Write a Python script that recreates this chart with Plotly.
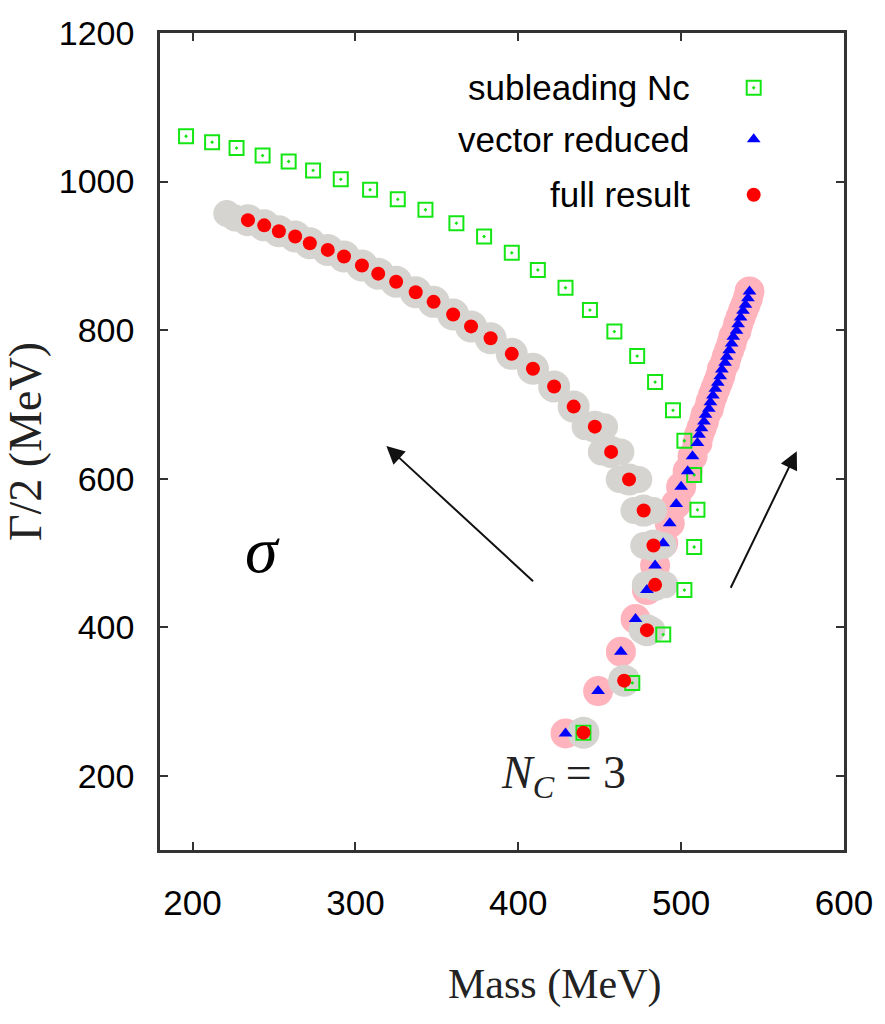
import plotly.graph_objects as go

# ---------------- data ----------------
green_mass = [196, 212, 227, 243, 259, 274, 291, 309, 326, 343, 362, 379, 396, 412,
              429, 444, 459, 473, 484, 495, 502, 508, 510, 508, 502, 489, 470, 440]
green_gamma = [1061, 1053, 1045, 1035, 1027, 1015, 1003, 989, 976, 962, 944, 926, 904, 881,
               857, 827, 798, 765, 730, 692, 651, 605, 558, 508, 450, 390, 325, 258]

red_mass = [234, 244, 253, 263, 272, 283, 293, 304, 314, 325, 337, 348, 360, 371,
            383, 396, 409, 422, 434, 447, 457, 468, 477, 483, 484, 479, 465, 440]
red_gamma = [948, 941, 933, 926, 917, 908, 899, 887, 876, 865, 851, 838, 821, 805,
             789, 768, 748, 724, 697, 670, 636, 599, 557, 510, 457, 396, 328, 258]

blue_mass = [429, 449, 463, 472, 479, 484, 489, 493, 497, 500, 504, 507, 510, 511, 512.5,
             514, 515, 517, 518, 519.5, 521, 522.5, 524, 525, 527, 528, 529.5, 531, 532,
             534, 535, 536.5, 538, 539.5, 541, 542]
blue_gamma = [257, 314, 367, 411, 450, 483, 513, 540, 566, 589, 610, 630, 648, 659, 668,
              677, 686, 694, 703, 712, 721, 729, 738, 747, 756, 764, 773, 782, 791,
              799, 808, 817, 826, 834, 843, 852]

# extra blobs of the grey uncertainty band (left end and sideways spread near the bottom)
band_extra_mass = [221, 226, 441, 453, 451, 463, 462, 474, 471, 483, 477, 489, 478, 490, 476, 482]
band_extra_gamma = [957, 951, 670, 670, 636, 636, 599, 599, 557, 557, 510, 510, 457, 457, 396, 396]

legend_labels = ["subleading Nc", "vector reduced", "full result"]
x_ticks = [200, 300, 400, 500, 600]
y_ticks = [200, 400, 600, 800, 1000, 1200]

# arrows: (tail mass, tail gamma, head mass, head gamma)
arrow_left = (410, 460, 319, 644)
arrow_right = (530, 451, 571, 637)

# ---------------- styles ----------------
GREEN = "#14e614"
BLUE = "#0000ff"
RED = "#ff0000"
GREY = "#d6d4d0"
PINK = "#ffb3bd"
SANS = "Liberation Sans, Arial, sans-serif"
SERIF = "Liberation Serif, DejaVu Serif, serif"

fig = go.Figure()

# bands
fig.add_trace(go.Scatter(x=blue_mass, y=blue_gamma, mode="markers",
                         marker=dict(symbol="circle", size=30, color=PINK, line=dict(width=0)),
                         hoverinfo="skip", showlegend=False))
fig.add_trace(go.Scatter(x=red_mass, y=red_gamma, mode="markers",
                         marker=dict(symbol="circle", size=32, color=GREY, line=dict(width=0)),
                         hoverinfo="skip", showlegend=False))
fig.add_trace(go.Scatter(x=band_extra_mass, y=band_extra_gamma, mode="markers",
                         marker=dict(symbol="circle", size=27, color=GREY, line=dict(width=0)),
                         hoverinfo="skip", showlegend=False))

# series
fig.add_trace(go.Scatter(x=green_mass, y=green_gamma, mode="markers", name=legend_labels[0],
                         marker=dict(symbol="square-open-dot", size=14, color=GREEN,
                                     line=dict(width=2, color=GREEN)),
                         showlegend=False))
fig.add_trace(go.Scatter(x=blue_mass, y=blue_gamma, mode="markers", name=legend_labels[1],
                         marker=dict(symbol="triangle-up", size=12, color=BLUE, line=dict(width=0)),
                         showlegend=False))
fig.add_trace(go.Scatter(x=red_mass, y=red_gamma, mode="markers", name=legend_labels[2],
                         marker=dict(symbol="circle", size=14, color=RED, line=dict(width=0)),
                         showlegend=False))

# custom legend (text left, key right) on an overlay axis
key_x = 0.868
key_y = [0.933, 0.870, 0.802]
key_symbols = [dict(symbol="square-open-dot", size=14, color=GREEN, line=dict(width=2, color=GREEN)),
               dict(symbol="triangle-up", size=12, color=BLUE, line=dict(width=0)),
               dict(symbol="circle", size=14, color=RED, line=dict(width=0))]
for i, lab in enumerate(legend_labels):
    fig.add_trace(go.Scatter(x=[key_x], y=[key_y[i]], mode="markers", marker=key_symbols[i],
                             xaxis="x2", yaxis="y2", hoverinfo="skip", showlegend=False))
    fig.add_annotation(x=0.778, y=key_y[i], xref="x2", yref="y2", text=lab, showarrow=False,
                       xanchor="right", yanchor="middle",
                       font=dict(family=SANS, size=35, color="black"))

# arrows
for (tx, ty, hx, hy) in (arrow_left, arrow_right):
    fig.add_annotation(x=hx, y=hy, ax=tx, ay=ty, xref="x", yref="y", axref="x", ayref="y",
                       text="", showarrow=True, arrowhead=2, arrowsize=1.8, arrowwidth=2,
                       arrowcolor="#111111")

# text labels
fig.add_annotation(x=243, y=505, xref="x", yref="y", text="<i>σ</i>", showarrow=False,
                   font=dict(family=SERIF, size=66, color="black"))
fig.add_annotation(x=428, y=200, xref="x", yref="y",
                   text="<i>N</i><sub><i>C</i></sub> = 3", showarrow=False,
                   font=dict(family=SERIF, size=46, color="#222222"))
# x-axis title (placed like the original, right of centre)
fig.add_annotation(x=0.577, y=-0.165, xref="paper", yref="paper", text="Mass (MeV)",
                   showarrow=False, xanchor="center", yanchor="middle",
                   font=dict(family=SERIF, size=42, color="#222222"))

fig.update_layout(
    width=885, height=1024,
    margin=dict(l=160, r=37, t=33, b=174),
    plot_bgcolor="white", paper_bgcolor="white",
    xaxis=dict(range=[180, 600], tickvals=x_ticks, ticks="inside", ticklen=8, tickwidth=1.5,
               tickcolor="#333333", showgrid=False, zeroline=False, showline=True,
               linecolor="#333333", linewidth=2.5, mirror="ticks",
               tickfont=dict(family=SANS, size=35, color="black"), ticklabelstandoff=20),
    yaxis=dict(range=[100, 1200], tickvals=y_ticks, ticks="inside", ticklen=8, tickwidth=1.5,
               tickcolor="#333333", showgrid=False, zeroline=False, showline=True,
               linecolor="#333333", linewidth=2.5, mirror="ticks",
               tickfont=dict(family=SANS, size=34, color="black"), ticklabelstandoff=16,
               title=dict(text="Γ/2 (MeV)", font=dict(family=SERIF, size=46, color="#222222"),
                          standoff=12)),
    xaxis2=dict(range=[0, 1], overlaying="x", visible=False, domain=[0, 1]),
    yaxis2=dict(range=[0, 1], overlaying="y", visible=False),
    showlegend=False,
)

fig.write_html("out.html")
